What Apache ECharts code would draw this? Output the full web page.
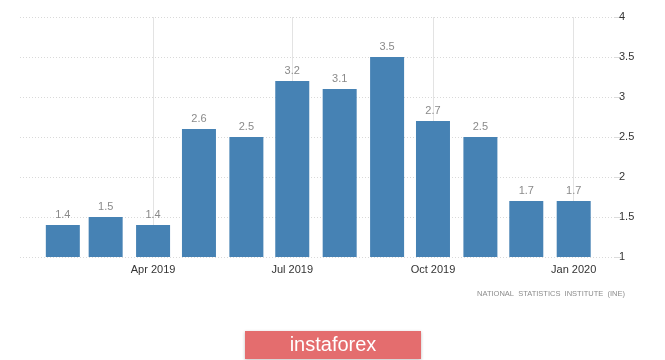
<!DOCTYPE html>
<html>
<head>
<meta charset="utf-8">
<script src="https://cdn.jsdelivr.net/npm/echarts@6/dist/echarts.min.js"></script>
<style>
html,body{margin:0;padding:0;background:#fff;}
#chart{width:665px;height:360px;}
</style>
</head>
<body>
<div id="chart"></div>
<script>
// Data
var months = ['2019-02-01','2019-03-01','2019-04-01','2019-05-01','2019-06-01','2019-07-01','2019-08-01','2019-09-01','2019-10-01','2019-11-01','2019-12-01','2020-01-01'];
var values = [1.4, 1.5, 1.4, 2.6, 2.5, 3.2, 3.1, 3.5, 2.7, 2.5, 1.7, 1.7];
var tickDates = ['2019-04-01','2019-07-01','2019-10-01','2020-01-01'];
var monthNames = ['Jan','Feb','Mar','Apr','May','Jun','Jul','Aug','Sep','Oct','Nov','Dec'];
var sourceText = 'NATIONAL  STATISTICS  INSTITUTE  (INE)';
var brandText = 'instaforex';

function toTs(s){ var p = s.split('-'); return Date.UTC(+p[0], +p[1]-1, +p[2]); }
var tickTs = tickDates.map(toTs);
var seriesData = months.map(function(m,i){ return [toTs(m), values[i]]; });

var chart = echarts.init(document.getElementById('chart'));
chart.setOption({
  animation: false,
  backgroundColor: '#ffffff',
  grid: { left: 20, right: 50, top: 17, bottom: 103, containLabel: false },
  xAxis: {
    type: 'value',
    min: toTs('2019-01-04'),
    max: toTs('2020-01-28'),
    axisLine: { show: false },
    axisTick: { show: false, customValues: tickTs },
    axisLabel: {
      customValues: tickTs,
      color: '#333',
      fontSize: 11,
      fontFamily: 'Liberation Sans, Arial, sans-serif',
      margin: 7,
      formatter: function(v){ var d = new Date(v); return monthNames[d.getUTCMonth()] + ' ' + d.getUTCFullYear(); }
    },
    splitLine: { show: true, lineStyle: { color: '#e3e3e3', width: 1, type: 'solid' } }
  },
  yAxis: {
    type: 'value',
    position: 'right',
    min: 1, max: 4, interval: 0.5,
    axisLine: { show: false },
    axisTick: { show: true, length: 6, lineStyle: { color: '#dcdcdc' } },
    axisLabel: { color: '#333', fontSize: 11, fontFamily: 'Liberation Sans, Arial, sans-serif', margin: 4 },
    splitLine: { show: true, lineStyle: { color: '#d9d9d9', type: [1, 2], width: 1 } }
  },
  series: [{
    type: 'bar',
    data: seriesData,
    barWidth: 34,
    itemStyle: { color: '#4682B4' },
    label: {
      show: true, position: 'top', distance: 5,
      color: '#8a8a8a', fontSize: 11, fontFamily: 'Liberation Sans, Arial, sans-serif',
      formatter: function(p){ return p.value[1]; }
    }
  }],
  graphic: [
    { type: 'text', right: 40, top: 290, style: { text: sourceText, fill: '#8c8c8c', fontSize: 7.5, fontFamily: 'Liberation Sans, Arial, sans-serif' } },
    { type: 'rect', shape: { x: 245, y: 331, width: 176, height: 28 }, style: { fill: '#e46d6e', shadowBlur: 3, shadowColor: 'rgba(0,0,0,0.25)', shadowOffsetY: 1 } },
    { type: 'text', x: 333, y: 345, style: { text: brandText, fill: '#ffffff', fontSize: 20, fontFamily: 'Liberation Sans, Arial, sans-serif', align: 'center', verticalAlign: 'middle' } }
  ]
});
</script>
</body>
</html>
